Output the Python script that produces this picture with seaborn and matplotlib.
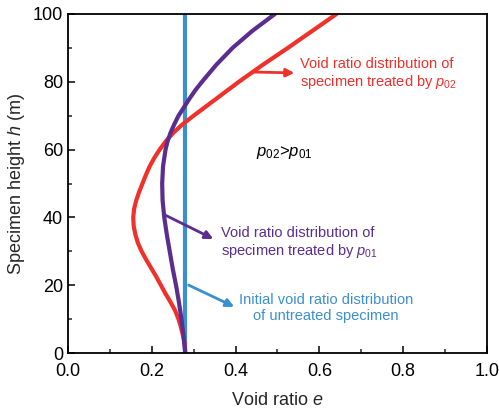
import matplotlib
matplotlib.use("Agg")
import matplotlib.pyplot as plt
import seaborn as sns
import pandas as pd
from matplotlib.ticker import MultipleLocator, FormatStrFormatter

# void ratio, treated by p02 (red)
h_p02 = [0, 2.5, 5, 7.5, 10, 12.5, 15, 17.5, 20, 22.5, 25, 27.5, 30, 32.5, 35, 37.5, 40,
         42.5, 45, 47.5, 50, 52.5, 55, 57.5, 60, 62.5, 65, 67.5, 70, 75, 80, 85, 90, 95, 100]
e_p02 = [0.280, 0.279, 0.275, 0.270, 0.264, 0.256, 0.245, 0.233, 0.222, 0.211, 0.199, 0.187,
         0.176, 0.167, 0.161, 0.157, 0.156, 0.158, 0.163, 0.170, 0.178, 0.186, 0.195, 0.206,
         0.219, 0.234, 0.252, 0.274, 0.300, 0.354, 0.408, 0.465, 0.525, 0.583, 0.641]
# treated by p01 (purple)
h_p01 = [0, 5, 10, 15, 20, 25, 30, 35, 40, 45, 50, 55, 60, 62.5, 65, 67.5, 70, 72.5, 75,
         77.5, 80, 85, 90, 95, 100]
e_p01 = [0.280, 0.276, 0.271, 0.265, 0.258, 0.250, 0.243, 0.236, 0.230, 0.226, 0.225, 0.227,
         0.233, 0.238, 0.245, 0.254, 0.264, 0.277, 0.290, 0.304, 0.320, 0.354, 0.393, 0.440, 0.494]
# initial, untreated (blue)
h_init = [0, 100]
e_init = [0.28, 0.28]

RED = "#f0302a"
PURPLE = "#5b2d8e"
BLUE = "#3a8fd0"

sns.set_style("ticks")
plt.rcParams["font.family"] = ["Liberation Sans", "DejaVu Sans"]
plt.rcParams["mathtext.fontset"] = "custom"
plt.rcParams["mathtext.rm"] = "Liberation Sans"
plt.rcParams["mathtext.it"] = "Liberation Sans:italic"

df_red = pd.DataFrame({"e": e_p02, "h": h_p02})
df_pur = pd.DataFrame({"e": e_p01, "h": h_p01})
df_blu = pd.DataFrame({"e": e_init, "h": h_init})

fig = plt.figure(figsize=(4.99, 4.11), dpi=100)
ax = fig.add_axes([0.136, 0.141, 0.840, 0.825])

line_kw = dict(orient="y", lw=3, solid_joinstyle="round", ax=ax)
sns.lineplot(data=df_blu, x="e", y="h", color=BLUE, **line_kw)
sns.lineplot(data=df_red, x="e", y="h", color=RED, **line_kw)
sns.lineplot(data=df_pur, x="e", y="h", color=PURPLE, **line_kw)

ax.set_xlim(0, 1.0)
ax.set_ylim(0, 100)
ax.xaxis.set_major_locator(MultipleLocator(0.2))
ax.xaxis.set_minor_locator(MultipleLocator(0.1))
ax.yaxis.set_major_locator(MultipleLocator(20))
ax.yaxis.set_minor_locator(MultipleLocator(10))
ax.xaxis.set_major_formatter(FormatStrFormatter("%.1f"))
ax.tick_params(which="major", direction="in", length=5, width=1.1, labelsize=13, colors="black")
ax.tick_params(which="minor", direction="in", length=3, width=1.1)
ax.tick_params(axis="x", which="major", pad=7)
for s in ax.spines.values():
    s.set_visible(True)
    s.set_linewidth(1.3)
    s.set_color("black")

ax.set_xlabel("Void ratio $e$", fontsize=13, labelpad=9)
ax.set_ylabel("Specimen height $h$ (m)", fontsize=13)

# annotations
ax.annotate("", xy=(0.547, 82.6), xytext=(0.434, 82.9),
            arrowprops=dict(arrowstyle="-|>", color=RED, lw=2, mutation_scale=12))
ax.text(0.554, 82.3, "Void ratio distribution of\nspecimen treated by $p_{02}$",
        color=RED, fontsize=10.5, va="center", ha="left", linespacing=1.2)

ax.annotate("", xy=(0.353, 33.3), xytext=(0.227, 41.0),
            arrowprops=dict(arrowstyle="-|>", color=PURPLE, lw=2, mutation_scale=12))
ax.text(0.365, 32.4, "Void ratio distribution of\nspecimen treated by $p_{01}$",
        color=PURPLE, fontsize=10.5, va="center", ha="left", linespacing=1.2)

ax.annotate("", xy=(0.403, 13.3), xytext=(0.282, 20.4),
            arrowprops=dict(arrowstyle="-|>", color=BLUE, lw=2, mutation_scale=12))
ax.text(0.616, 13.4, "Initial void ratio distribution\nof untreated specimen",
        color=BLUE, fontsize=10.5, va="center", ha="center", linespacing=1.2)

ax.text(0.45, 59, "$p_{02}$>$p_{01}$", color="black", fontsize=12, va="center", ha="left")

fig.savefig("out.png", dpi=100)
